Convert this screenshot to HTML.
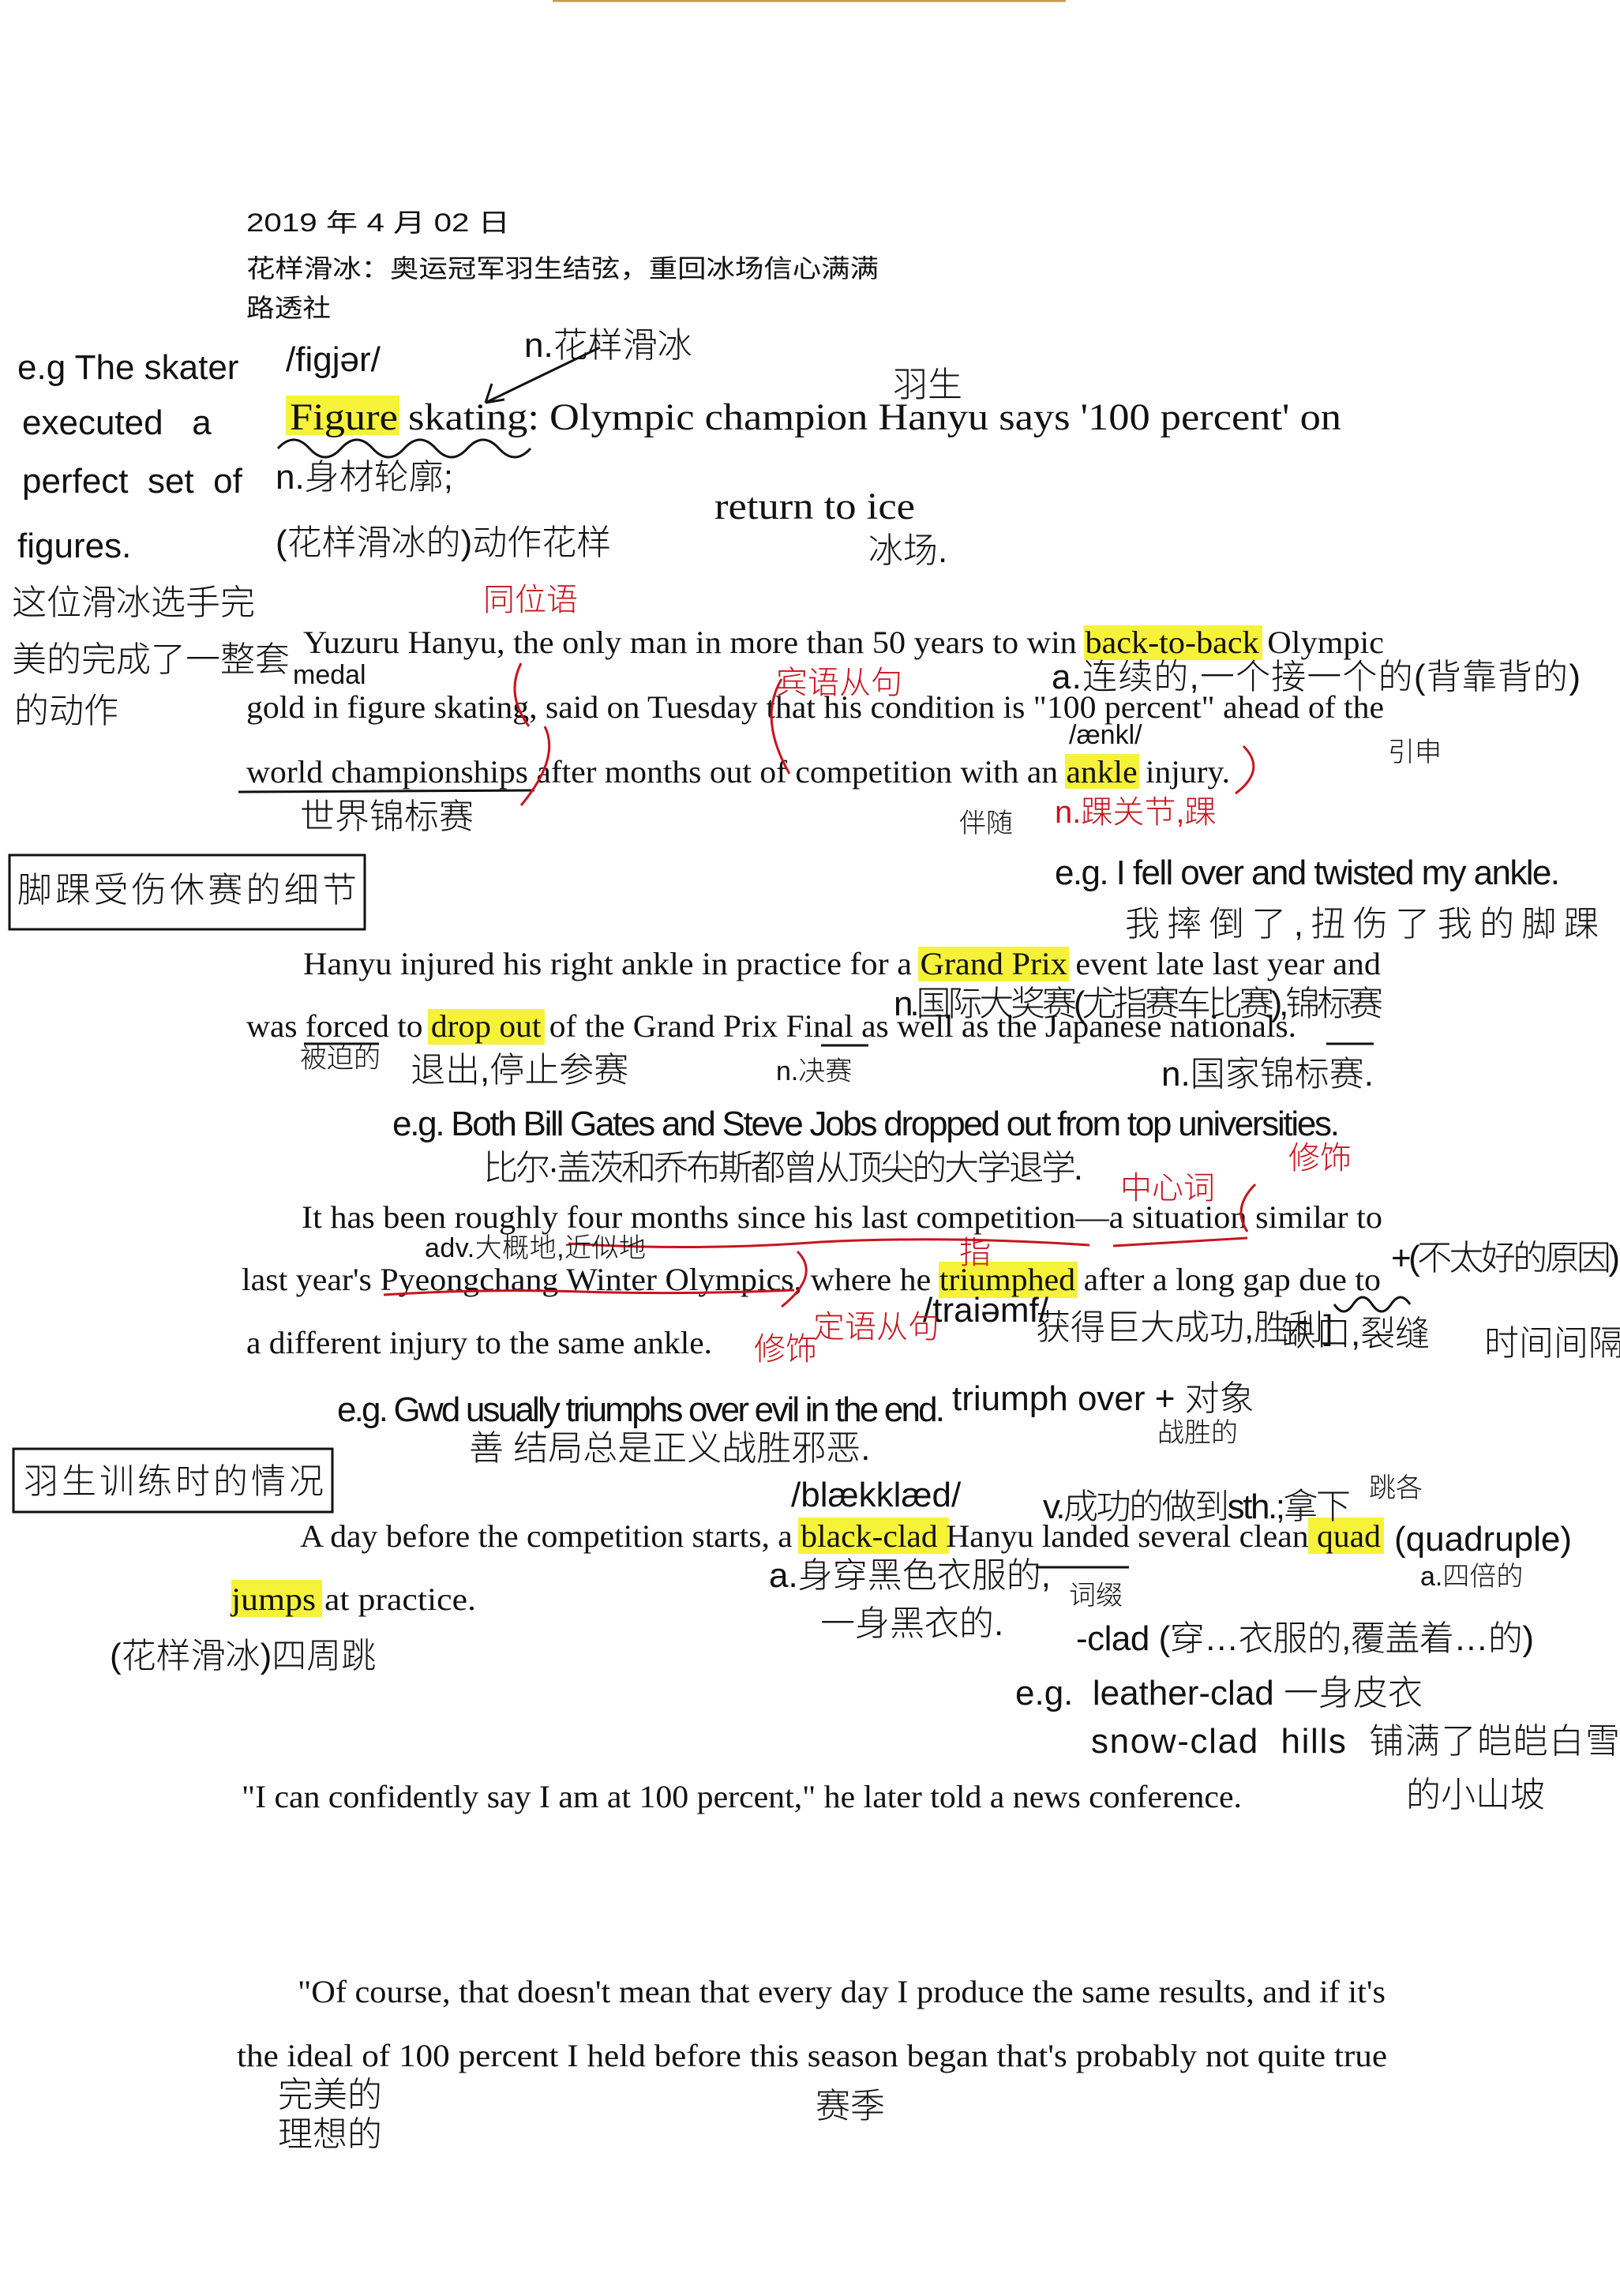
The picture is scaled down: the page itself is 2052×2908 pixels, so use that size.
<!DOCTYPE html>
<html><head><meta charset="utf-8">
<style>
html,body{margin:0;padding:0;background:#fff;}
svg{display:block;}
.p{font-family:"Liberation Serif","Noto Serif CJK SC",serif;font-size:40px;fill:#111;}
.h{font-family:"Liberation Sans","Noto Sans CJK SC",sans-serif;font-size:32px;fill:#111;}
.n{font-family:"Liberation Sans","Noto Sans CJK SC",sans-serif;font-size:44px;fill:#111;font-weight:300;}
.r{font-family:"Liberation Sans","Noto Sans CJK SC",sans-serif;font-size:40px;fill:#c8141e;font-weight:300;}
.s{font-size:34px;}
.hl{fill:#f6f23a;}
</style></head><body>
<svg width="2052" height="2908" viewBox="0 0 2052 2908" xmlns="http://www.w3.org/2000/svg">
<rect width="2052" height="2908" fill="#fff"/>
<line x1="700" y1="1" x2="1350" y2="1" stroke="#c89a50" stroke-width="3"/>

<text class="h" x="312" y="293" textLength="334" lengthAdjust="spacingAndGlyphs">2019 年 4 月 02 日</text>
<text class="h" x="312" y="351" textLength="801" lengthAdjust="spacingAndGlyphs">花样滑冰：奥运冠军羽生结弦，重回冰场信心满满</text>
<text class="h" x="312" y="401" textLength="107" lengthAdjust="spacingAndGlyphs">路透社</text>

<rect class="hl" x="362" y="501" width="144" height="50"/>
<rect class="hl" x="1373" y="792" width="226" height="44"/>
<rect class="hl" x="1349" y="955" width="94" height="44"/>
<rect class="hl" x="1163" y="1199" width="191" height="44"/>
<rect class="hl" x="542" y="1278" width="148" height="45"/>
<rect class="hl" x="1189" y="1598" width="176" height="46"/>
<rect class="hl" x="1011" y="1922" width="191" height="46"/>
<rect class="hl" x="1657" y="1922" width="96" height="46"/>
<rect class="hl" x="293" y="2001" width="115" height="47"/>

<g lengthAdjust="spacingAndGlyphs">
<text class="p" style="font-size:48px" x="367" y="544" textLength="1332" lengthAdjust="spacingAndGlyphs">Figure skating: Olympic champion Hanyu says '100 percent' on</text>
<text class="p" style="font-size:48px" x="905" y="657" textLength="254" lengthAdjust="spacingAndGlyphs">return to ice</text>
<text class="p" x="384" y="827" textLength="1369" lengthAdjust="spacingAndGlyphs">Yuzuru Hanyu, the only man in more than 50 years to win back-to-back Olympic</text>
<text class="p" x="312" y="909" textLength="1441" lengthAdjust="spacingAndGlyphs">gold in figure skating, said on Tuesday that his condition is "100 percent" ahead of the</text>
<text class="p" x="312" y="991" textLength="1246" lengthAdjust="spacingAndGlyphs">world championships after months out of competition with an ankle injury.</text>
<text class="p" x="384" y="1234" textLength="1365" lengthAdjust="spacingAndGlyphs">Hanyu injured his right ankle in practice for a Grand Prix event late last year and</text>
<text class="p" x="312" y="1313" textLength="1330" lengthAdjust="spacingAndGlyphs">was forced to drop out of the Grand Prix Final as well as the Japanese nationals.</text>
<text class="p" x="382" y="1555" textLength="1369" lengthAdjust="spacingAndGlyphs">It has been roughly four months since his last competition—a situation similar to</text>
<text class="p" x="306" y="1634" textLength="1443" lengthAdjust="spacingAndGlyphs">last year's Pyeongchang Winter Olympics, where he triumphed after a long gap due to</text>
<text class="p" x="312" y="1714" textLength="590" lengthAdjust="spacingAndGlyphs">a different injury to the same ankle.</text>
<text class="p" x="380" y="1959" textLength="1369" lengthAdjust="spacingAndGlyphs">A day before the competition starts, a black-clad Hanyu landed several clean quad</text>
<text class="p" x="293" y="2039" textLength="310" lengthAdjust="spacingAndGlyphs">jumps at practice.</text>
<text class="p" x="306" y="2289" textLength="1267" lengthAdjust="spacingAndGlyphs">"I can confidently say I am at 100 percent," he later told a news conference.</text>
<text class="p" x="377" y="2536" textLength="1378" lengthAdjust="spacingAndGlyphs">"Of course, that doesn't mean that every day I produce the same results, and if it's</text>
<text class="p" x="300" y="2617" textLength="1457" lengthAdjust="spacingAndGlyphs">the ideal of 100 percent I held before this season began that's probably not quite true</text>
</g>

<g fill="none" stroke="#111" stroke-width="3">
<path d="M352 568 q20 -22 40 0 t40 0 t40 0 t40 0 t40 0 t40 0 t40 0 t40 0"/>
<path d="M760 440 L615 510 M615 510 l8 -24 M615 510 l24 -4"/>
<path d="M302 1003 L677 1001"/>
<path d="M385 1322 L480 1322 M1680 1322 L1740 1322 M1040 1324 L1100 1324"/>
<path d="M1690 1652 q12 18 24 0 t24 0 t24 0 t24 0"/>
<path d="M1312 1985 L1430 1985"/>
<rect x="12" y="1083" width="450" height="94"/>
<rect x="17" y="1835" width="404" height="80"/>
</g>
<g fill="none" stroke="#c8141e" stroke-width="3">
<path d="M720 1575 q160 10 320 -2 q160 -8 340 4"/>
<path d="M1410 1578 L1580 1568"/>
<path d="M486 1640 q120 -8 250 -4 q130 4 270 -2"/>
<path d="M660 840 q-20 40 10 80 M690 920 q20 40 -30 100"/>
<path d="M990 860 q-30 50 10 120 M1575 945 q30 30 -10 60"/>
<path d="M1010 1585 q30 30 -20 70 M1580 1560 q-20 -30 10 -60"/>
</g>

<g class="n">
<text x="22" y="480">e.g The skater</text>
<text x="28" y="550">executed &#160; a</text>
<text x="28" y="624">perfect &#160;set &#160;of</text>
<text x="22" y="706">figures.</text>
<text x="15" y="778">这位滑冰选手完</text>
<text x="15" y="850">美的完成了一整套</text>
<text x="18" y="915">的动作</text>
<text x="362" y="470">/figjər/</text>
<text x="664" y="452">n.花样滑冰</text>
<text x="1131" y="502">羽生</text>
<text x="349" y="619">n.身材轮廓;</text>
<text x="349" y="702">(花样滑冰的)动作花样</text>
<text x="1100" y="712">冰场.</text>
<text class="s" x="371" y="866">medal</text>
<text x="1332" y="872" textLength="670">a.连续的,一个接一个的(背靠背的)</text>
<text class="s" x="1354" y="942">/ænkl/</text>
<text class="s" x="1758" y="964">引申</text>
<text x="380" y="1049">世界锦标赛</text>
<text class="s" x="1215" y="1054">伴随</text>
<text x="1336" y="1120" textLength="640">e.g. I fell over and twisted my ankle.</text>
<text x="1425" y="1185" textLength="600">我摔倒了,扭伤了我的脚踝</text>
<text x="22" y="1142" textLength="430">脚踝受伤休赛的细节</text>
<text x="1132" y="1286" textLength="620">n.国际大奖赛(尤指赛车比赛),锦标赛</text>
<text class="s" x="380" y="1352">被迫的</text>
<text x="520" y="1370">退出,停止参赛</text>
<text class="s" x="983" y="1368">n.决赛</text>
<text x="1471" y="1375">n.国家锦标赛.</text>
<text x="497" y="1438" textLength="1200">e.g. Both Bill Gates and Steve Jobs dropped out from top universities.</text>
<text x="612" y="1494" textLength="760">比尔·盖茨和乔布斯都曾从顶尖的大学退学.</text>
<text class="s" x="538" y="1592" textLength="280">adv.大概地,近似地</text>
<text x="1762" y="1608" textLength="290">+(不太好的原因)</text>
<text x="1169" y="1674">/traiəmf/</text>
<text x="1312" y="1696">获得巨大成功,胜利]</text>
<text x="1623" y="1704">缺口,裂缝</text>
<text x="1880" y="1716">时间间隔</text>
<text x="427" y="1800" textLength="770">e.g. Gwd usually triumphs over evil in the end.</text>
<text x="1206" y="1786">triumph over + 对象</text>
<text x="594" y="1849">善 结局总是正义战胜邪恶.</text>
<text class="s" x="1466" y="1826">战胜的</text>
<text x="30" y="1891" textLength="380">羽生训练时的情况</text>
<text x="1002" y="1908">/blækklæd/</text>
<text x="1321" y="1923" textLength="390">v.成功的做到sth.;拿下</text>
<text class="s" x="1734" y="1896">跳各</text>
<text x="1766" y="1964">(quadruple)</text>
<text class="s" x="1799" y="2008">a.四倍的</text>
<text x="974" y="2010">a.身穿黑色衣服的,</text>
<text x="1039" y="2071">一身黑衣的.</text>
<text class="s" x="1354" y="2032">词缀</text>
<text x="1363" y="2090" textLength="580">-clad (穿…衣服的,覆盖着…的)</text>
<text x="139" y="2112">(花样滑冰)四周跳</text>
<text x="1286" y="2159">e.g. &#160;leather-clad 一身皮衣</text>
<text x="1382" y="2220" textLength="670">snow-clad &#160;hills &#160;铺满了皑皑白雪</text>
<text x="1781" y="2288">的小山坡</text>
<text x="352" y="2668">完美的</text>
<text x="352" y="2718">理想的</text>
<text x="1033" y="2682">赛季</text>
</g>

<g class="r">
<text x="612" y="773">同位语</text>
<text x="983" y="878">宾语从句</text>
<text x="1336" y="1042">n.踝关节,踝</text>
<text x="1419" y="1518">中心词</text>
<text x="1632" y="1480">修饰</text>
<text x="1215" y="1600">指</text>
<text x="1030" y="1694">定语从句</text>
<text x="955" y="1722">修饰</text>
</g>
</svg>
</body></html>
